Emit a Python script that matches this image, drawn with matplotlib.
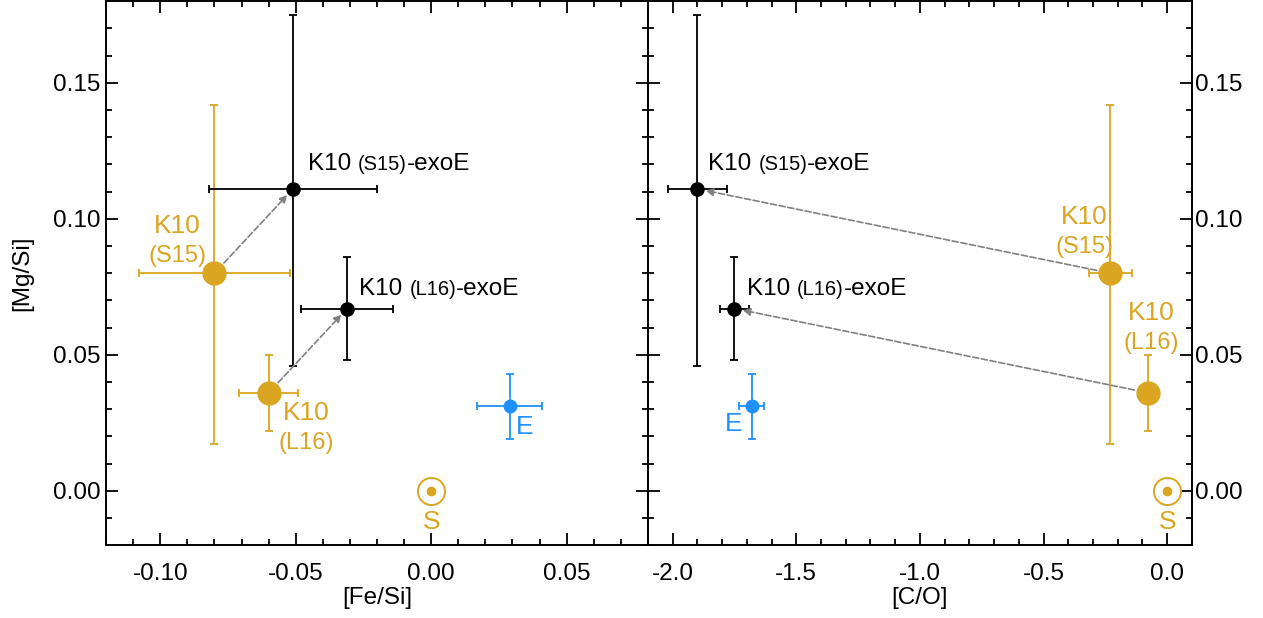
import numpy as np
import matplotlib.pyplot as plt
from matplotlib.ticker import MultipleLocator

plt.rcParams["font.family"] = ["Liberation Sans", "DejaVu Sans"]

# order: K10 (S15), K10 (L16), K10 (S15)-exoE, K10 (L16)-exoE, Earth
mg_si = [0.080, 0.036, 0.111, 0.067, 0.031]
mg_si_lo = [0.063, 0.014, 0.065, 0.019, 0.012]
mg_si_hi = [0.062, 0.014, 0.064, 0.019, 0.012]
fe_si = [-0.080, -0.060, -0.051, -0.031, 0.029]
fe_si_err = [0.028, 0.011, 0.031, 0.017, 0.012]
c_o = [-0.23, -0.077, -1.90, -1.75, -1.68]
c_o_err = [0.087, 0.0, 0.12, 0.06, 0.05]
sun = (0.0, 0.0)

gold = "#DAA520"
blue = "#1E90FF"
colors = [gold, gold, "black", "black", blue]
msizes = [16.5, 16.5, 9.5, 9.5, 9]

fig = plt.figure(figsize=(12.63, 6.18), dpi=100)
ax1 = fig.add_axes([0.084, 0.118, 0.429, 0.880])
ax2 = fig.add_axes([0.513, 0.118, 0.4307, 0.880])


def draw_points(ax, xs, xerrs):
    for i in range(len(xs)):
        ax.errorbar(xs[i], mg_si[i], xerr=xerrs[i] if xerrs[i] > 0 else None,
                    yerr=[[mg_si_lo[i]], [mg_si_hi[i]]], fmt="o", color=colors[i],
                    ms=msizes[i], elinewidth=1.3, capsize=3, capthick=1.3, zorder=3)
    # sun symbol
    ax.plot(sun[0], sun[1], "o", ms=19.5, mfc="none", mec=gold, mew=1.4)
    ax.plot(sun[0], sun[1], "o", ms=6, color=gold)


def arrow(ax, i_from, i_to, xs):
    ax.annotate("", xy=(xs[i_to], mg_si[i_to]), xytext=(xs[i_from], mg_si[i_from]),
                arrowprops=dict(arrowstyle="-|>", linestyle="--", color="gray", lw=1.2,
                                shrinkA=10, shrinkB=6, mutation_scale=11))


def exo_label(ax, x, y, tag):
    # big "K10", smaller "(tag)", big "-exoE" on one baseline
    t1 = ax.text(x, y, "K10 ", fontsize=17.5, va="baseline")
    t2 = ax.annotate("(" + tag + ")", xy=(1, 0), xycoords=t1, fontsize=14.5,
                     va="bottom", xytext=(0, 0.8), textcoords="offset points")
    ax.annotate("-exoE", xy=(1, 0), xycoords=t2, fontsize=17.5, va="bottom",
                xytext=(0, -0.8), textcoords="offset points")


def gold_label(ax, x, y, tag):
    ax.text(x, y, "K10", fontsize=19, color=gold, ha="center", va="center")
    ax.text(x, y - 0.011, "(" + tag + ")", fontsize=17, color=gold, ha="center", va="center")


draw_points(ax1, fe_si, fe_si_err)
arrow(ax1, 0, 2, fe_si)
arrow(ax1, 1, 3, fe_si)
exo_label(ax1, -0.0454, 0.1178, "S15")
exo_label(ax1, -0.0265, 0.0720, "L16")
gold_label(ax1, -0.0937, 0.0974, "S15")
gold_label(ax1, -0.046, 0.0285, "L16")
ax1.text(0.0345, 0.0235, "E", color=blue, fontsize=19, ha="center", va="center")
ax1.text(0.0, -0.0115, "S", color=gold, fontsize=19, ha="center", va="center")

draw_points(ax2, c_o, c_o_err)
arrow(ax2, 0, 2, c_o)
arrow(ax2, 1, 3, c_o)
exo_label(ax2, -1.855, 0.1178, "S15")
exo_label(ax2, -1.70, 0.0720, "L16")
gold_label(ax2, -0.335, 0.1005, "S15")
gold_label(ax2, -0.065, 0.0652, "L16")
ax2.text(-1.755, 0.0245, "E", color=blue, fontsize=19, ha="center", va="center")
ax2.text(0.0, -0.0115, "S", color=gold, fontsize=19, ha="center", va="center")

ax1.set_xlim(-0.12, 0.08)
ax2.set_xlim(-2.1, 0.1)
for ax in (ax1, ax2):
    ax.set_ylim(-0.02, 0.18)
    ax.yaxis.set_major_locator(MultipleLocator(0.05))
    ax.yaxis.set_minor_locator(MultipleLocator(0.01))
    ax.tick_params(which="both", direction="in", top=True, bottom=True,
                   left=True, right=True, labelsize=17.5, width=1.3)
    ax.tick_params(which="major", length=8.5)
    ax.tick_params(which="minor", length=4)
    ax.tick_params(axis="x", which="both", pad=13)
    ax.tick_params(axis="y", which="both", pad=4)
    for sp in ax.spines.values():
        sp.set_linewidth(1.4)
    ax.yaxis.set_major_formatter(plt.FormatStrFormatter("%.2f"))

ax1.xaxis.set_major_locator(MultipleLocator(0.05))
ax1.xaxis.set_minor_locator(MultipleLocator(0.01))
ax1.xaxis.set_major_formatter(plt.FormatStrFormatter("%.2f"))
ax2.xaxis.set_major_locator(MultipleLocator(0.5))
ax2.xaxis.set_minor_locator(MultipleLocator(0.1))
ax2.xaxis.set_major_formatter(plt.FormatStrFormatter("%.1f"))
ax2.tick_params(axis="y", labelleft=False, labelright=True, pad=2)

ax1.set_xlabel("[Fe/Si]", fontsize=17.5, labelpad=1)
ax2.set_xlabel("[C/O]", fontsize=17.5, labelpad=1)
ax1.set_ylabel("[Mg/Si]", fontsize=17.5, labelpad=14)

fig.savefig("out.png", dpi=100)
